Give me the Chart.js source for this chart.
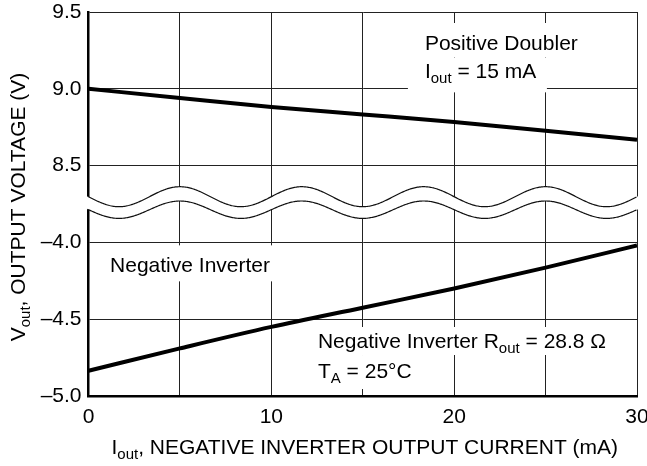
<!DOCTYPE html>
<html>
<head>
<meta charset="utf-8">
<script src="https://cdn.jsdelivr.net/npm/chart.js@4.4.0/dist/chart.umd.min.js"></script>
<style>
html,body{margin:0;padding:0;background:#fff;}
#wrap{width:647px;height:466px;position:relative;}
</style>
</head>
<body>
<div id="wrap"><canvas id="c" width="647" height="466"></canvas></div>
<script>
// ---- data ----
const currentMA = [0, 5, 10, 15, 20, 25, 30];
const positiveDoublerV = [9.0, 8.94, 8.881, 8.833, 8.784, 8.727, 8.669];
const negativeInverterV = [-4.836, -4.69, -4.55, -4.425, -4.30, -4.164, -4.02];

const xLabeledTicks = [0, 10, 20, 30];
const yTickValues = [-5.0, -4.5, -4.0, 8.5, 9.0, 9.5];
const yTickLabels = ['\u20135.0', '\u20134.5', '\u20134.0', '8.5', '9.0', '9.5'];

// broken axis: lower segment -5..-4, upper segment 8.5..9.5, gap of 0.5 between
function toAxis(v) { return v <= -4 ? v + 5 : v - 7; }
const BREAK_CENTER = 1.25;   // axis units, middle of the gap
const BREAK_PERIOD = 20 / 3; // mA per wave
const BREAK_PHASE = 5;       // mA of a wave crest

const FONT = "'Liberation Sans', Arial, Helvetica, sans-serif";
const SIZE = 21, SUB = 15, SUBSHIFT = 5;

function drawRich(ctx, parts, x, y, align) {
  let w = 0;
  parts.forEach(p => {
    ctx.font = (p.sub ? SUB : SIZE) + 'px ' + FONT;
    p.w = ctx.measureText(p.t).width; w += p.w;
  });
  let cx = align === 'center' ? x - w / 2 : x;
  ctx.textAlign = 'left'; ctx.textBaseline = 'alphabetic';
  parts.forEach(p => {
    ctx.font = (p.sub ? SUB : SIZE) + 'px ' + FONT;
    ctx.fillText(p.t, cx, y + (p.sub ? SUBSHIFT : 0));
    cx += p.w;
  });
  return w;
}

const annotations = [
  {x: 18.4, yv: 9.2526, box: [-17, -27, 172, 7], parts: [{t: 'Positive Doubler'}]},
  {x: 18.4, yv: 9.068, box: [-17, -21, 139, 14], parts: [{t: 'I'}, {t: 'out', sub: true}, {t: ' = 15 mA'}]},
  {x: 1.18, yv: -4.195, box: [-10, -27, 172, 9], parts: [{t: 'Negative Inverter'}]},
  {x: 12.55, yv: -4.6875, box: [-8, -21, 302, 7], parts: [{t: 'Negative Inverter R'}, {t: 'out', sub: true}, {t: ' = 28.8 \u03A9'}]},
  {x: 12.55, yv: -4.883, box: [-8, -23, 107, 11], parts: [{t: 'T'}, {t: 'A', sub: true}, {t: ' = 25\u00B0C'}]}
];

const decorPlugin = {
  id: 'decor',
  beforeDatasetsDraw(chart) {
    const {ctx, chartArea: a, scales: {x, y}} = chart;
    // axis break (double wave)
    const yc = y.getPixelForValue(BREAK_CENTER);
    const period = x.getPixelForValue(BREAK_PERIOD) - x.getPixelForValue(0);
    const x0 = x.getPixelForValue(BREAK_PHASE);
    const up = px => (yc - 7.3) - 10 * Math.cos(2 * Math.PI * (px - x0) / period);
    const lo = px => (yc + 5.7) - 8.7 * Math.cos(2 * Math.PI * (px - x0) / period);
    const L = a.left - 3, R = a.right + 2;
    ctx.save();
    ctx.beginPath();
    for (let px = L; px <= R; px += 1) ctx.lineTo(px, up(px));
    for (let px = R; px >= L; px -= 1) ctx.lineTo(px, lo(px));
    ctx.closePath();
    ctx.fillStyle = '#fff'; ctx.fill();
    ctx.lineWidth = 1.2; ctx.strokeStyle = '#111';
    [up, lo].forEach(f => {
      ctx.beginPath();
      for (let px = a.left - 1; px <= a.right; px += 1) ctx.lineTo(px, f(px));
      ctx.stroke();
    });
    // annotations with white backing
    annotations.forEach(an => {
      const px = x.getPixelForValue(an.x), py = y.getPixelForValue(toAxis(an.yv));
      ctx.fillStyle = '#fff';
      ctx.fillRect(px + an.box[0], py + an.box[1], an.box[2], an.box[3] - an.box[1]);
      ctx.fillStyle = '#000';
      drawRich(ctx, an.parts, px, py, 'left');
    });
    ctx.restore();
  },
  afterDraw(chart) {
    const {ctx, chartArea: a} = chart;
    ctx.save();
    ctx.fillStyle = '#000';
    // x title
    drawRich(ctx, [{t: 'I'}, {t: 'out', sub: true}, {t: ', NEGATIVE INVERTER OUTPUT CURRENT (mA)'}], (a.left + a.right) / 2 + 2, 454, 'center');
    // y title
    ctx.translate(25, (a.top + a.bottom) / 2 + 3);
    ctx.rotate(-Math.PI / 2);
    drawRich(ctx, [{t: 'V'}, {t: 'out', sub: true}, {t: ', OUTPUT VOLTAGE (V)'}], 0, 0, 'center');
    ctx.restore();
  }
};

const tickFont = {family: FONT, size: SIZE, lineHeight: 1.1};

new Chart(document.getElementById('c'), {
  type: 'line',
  data: {
    datasets: [
      {label: 'Positive Doubler', data: currentMA.map((v, i) => ({x: v, y: toAxis(positiveDoublerV[i])})),
       borderColor: '#000', borderWidth: 4, pointRadius: 0, fill: false, cubicInterpolationMode: 'monotone'},
      {label: 'Negative Inverter', data: currentMA.map((v, i) => ({x: v, y: toAxis(negativeInverterV[i])})),
       borderColor: '#000', borderWidth: 4, pointRadius: 0, fill: false, cubicInterpolationMode: 'monotone'}
    ]
  },
  options: {
    responsive: false, animation: false, devicePixelRatio: 1,
    layout: {padding: 0},
    plugins: {legend: {display: false}, tooltip: {enabled: false}},
    scales: {
      x: {
        type: 'linear', min: 0, max: 30,
        ticks: {stepSize: 5, autoSkip: false, maxRotation: 0, color: '#000', font: tickFont, padding: 10,
                callback: v => xLabeledTicks.includes(v) ? String(v) : ''},
        grid: {color: '#222', lineWidth: 1, drawTicks: false},
        border: {color: '#000', width: 2.5},
        afterFit(s) { s.height = 70; s.paddingLeft = 0; s.paddingRight = 10; }
      },
      y: {
        type: 'linear', min: 0, max: 2.5,
        afterBuildTicks(s) { s.ticks = yTickValues.map(v => ({value: toAxis(v)})); },
        ticks: {color: '#000', font: tickFont, padding: 7, callback: (v, i) => yTickLabels[i]},
        grid: {color: '#222', lineWidth: 1, drawTicks: false},
        border: {color: '#000', width: 2.5},
        afterFit(s) { s.width = 88.5; s.paddingTop = 12; s.paddingBottom = 0; }
      }
    }
  },
  plugins: [decorPlugin]
});
</script>
</body>
</html>
